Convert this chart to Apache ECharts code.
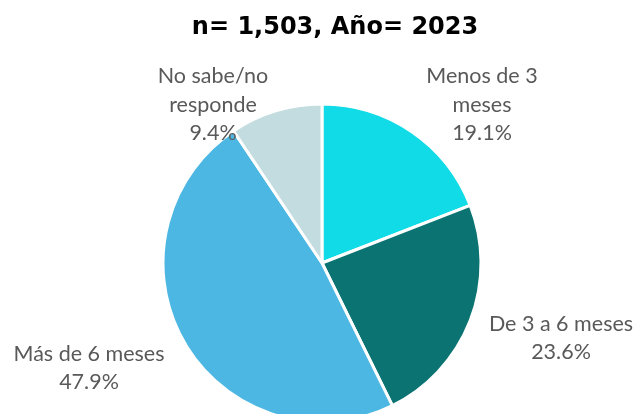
<!DOCTYPE html>
<html><head><meta charset="utf-8">
<script src="https://cdn.jsdelivr.net/npm/echarts@6/dist/echarts.min.js"></script>
<style>html,body{margin:0;padding:0;background:#fff}#c{width:636px;height:414px}</style>
</head><body><div id="c"></div>
<script>
var categories = ['Menos de 3\nmeses', 'De 3 a 6 meses', 'Más de 6 meses', 'No sabe/no\nresponde'];
var values = [19.1, 23.6, 47.9, 9.4];
var colors = ['#10dbe6', '#0b7472', '#4db7e3', '#c3dce0'];
var labelPos = [[482, 105], [561, 338], [89, 368], [213, 105]];

var chart = echarts.init(document.getElementById('c'), null, {renderer: 'canvas'});
chart.setOption({
  animation: false,
  title: {
    text: 'n= 1,503, Año= 2023',
    left: 330, top: 11, textAlign: 'center',
    textStyle: {fontFamily: 'DejaVu Sans', fontWeight: 'bold', fontSize: 24, color: '#000'}
  },
  series: [{
    type: 'pie',
    center: [322, 263],
    radius: 159,
    startAngle: 90,
    clockwise: true,
    data: categories.map(function (c, i) { return {name: c, value: values[i], itemStyle: {color: colors[i]}}; }),
    itemStyle: {borderColor: '#fff', borderWidth: 3},
    label: {
      show: true, position: 'outside', overflow: 'none',
      formatter: function (p) { return p.name + '\n' + p.value.toFixed(1) + '%'; },
      fontFamily: 'Lato', fontSize: 21.5, lineHeight: 28.5, color: '#595959', align: 'center'
    },
    labelLine: {show: false},
    labelLayout: function (p) {
      var pos = labelPos[p.dataIndex];
      return {x: pos[0], y: pos[1], align: 'center', verticalAlign: 'middle', hideOverlap: false};
    }
  }]
});
</script></body></html>
